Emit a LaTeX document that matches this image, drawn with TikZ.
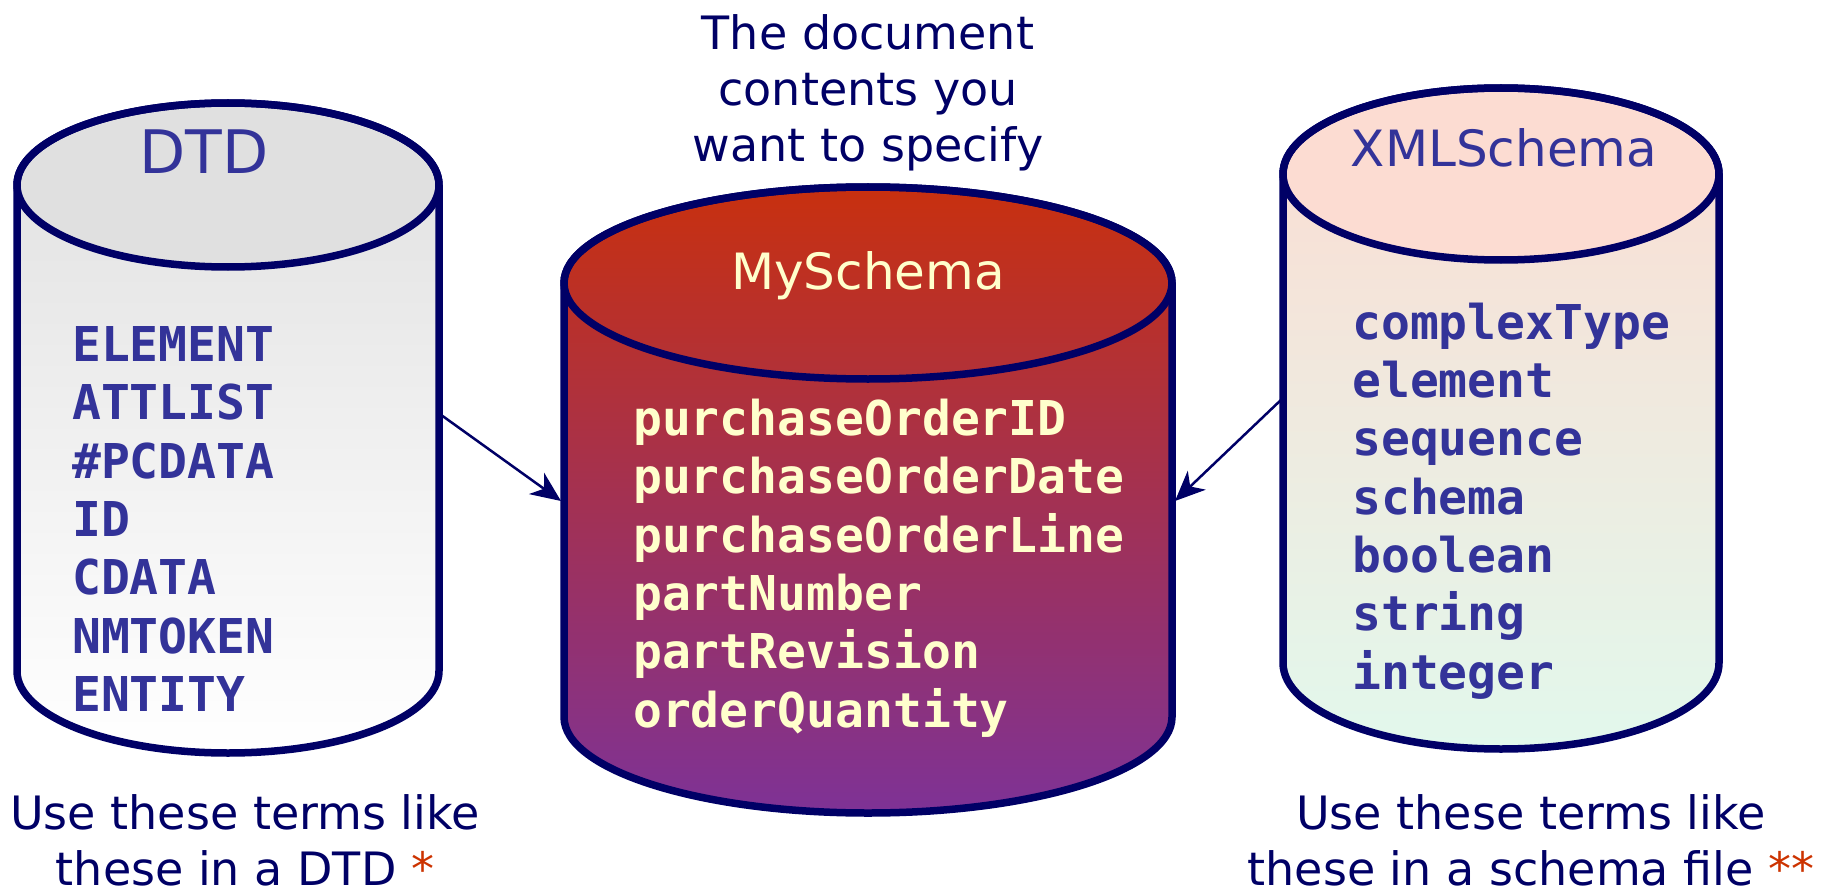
\documentclass[tikz,border=0pt]{standalone}
\usepackage{fontspec}
\setmainfont{DejaVu Sans}
\setmonofont{DejaVu Sans Mono}
\usetikzlibrary{arrows.meta}
\definecolor{navy}{HTML}{000066}
\definecolor{listblue}{HTML}{333399}
\definecolor{cream}{HTML}{FFFFCC}
\definecolor{starred}{HTML}{CC3300}
\definecolor{redtop}{HTML}{C8300F}
\definecolor{purplebot}{HTML}{7E3296}
\definecolor{graytop}{HTML}{E0E0E0}
\definecolor{peach}{HTML}{FCDCD2}
\definecolor{mint}{HTML}{E2F8EC}
\tikzset{
  outline/.style={draw=navy, line width=7.5pt, line join=round},
  caption/.style={text=navy, align=center, font=\fontsize{46}{56}\selectfont},
  cyltitle/.style={font=\fontsize{50}{60}\selectfont},
  termlist/.style={align=left, anchor=west, inner sep=0pt, font=\fontsize{48}{58.3}\selectfont\ttfamily\bfseries},
  conn/.style={navy, line width=2.5pt, -{Stealth[length=30pt,width=26pt,inset=9pt]}},
}
% #1 cx, #2 rx, #3 top centre y, #4 bottom centre y, #5 ry
\newcommand\cylsil[5]{({#1-#2},{-#3}) -- ({#1-#2},{-#4})
  arc[start angle=180,end angle=360,x radius=#2,y radius=#5]
  -- ({#1+#2},{-#3}) arc[start angle=0,end angle=180,x radius=#2,y radius=#5] -- cycle}
\newcommand\cyltop[5]{({#1},{-#3}) ellipse[x radius=#2,y radius=#5]}
\begin{document}
\begin{tikzpicture}[x=1pt,y=1pt]
\useasboundingbox (0,0) rectangle (1828,-896);

% DTD cylinder
\shade[top color=graytop, bottom color=white] \cylsil{228}{211}{185}{671}{82};
\fill[graytop] \cyltop{228}{211}{185}{671}{82};
\draw[outline] \cylsil{228}{211}{185}{671}{82};
\draw[outline] \cyltop{228}{211}{185}{671}{82};

% MySchema cylinder
\shade[top color=redtop, bottom color=purplebot] \cylsil{868}{304}{283}{717}{96};
\draw[outline] \cylsil{868}{304}{283}{717}{96};
\draw[outline] \cyltop{868}{304}{283}{717}{96};

% XMLSchema cylinder
\shade[top color=peach, bottom color=mint] \cylsil{1501}{218}{174}{663}{86};
\fill[peach] \cyltop{1501}{218}{174}{663}{86};
\draw[outline] \cylsil{1501}{218}{174}{663}{86};
\draw[outline] \cyltop{1501}{218}{174}{663}{86};

% titles
\node[cyltitle, text=listblue, font=\fontsize{60}{70}\selectfont] (dtdtitle) at (204,-152) {DTD};
\node[cyltitle, text=cream] (mytitle) at (868,-276) {MySchema};
\node[cyltitle, text=listblue] (xmltitle) at (1504,-148) {XMLSchema};

% lists
\node[termlist, text=listblue] (dtdlist) at (72,-519)
  {ELEMENT\\ATTLIST\\\#PCDATA\\ID\\CDATA\\NMTOKEN\\ENTITY};
\node[termlist, text=cream] (mylist) at (633,-568)
  {purchaseOrderID\\purchaseOrderDate\\purchaseOrderLine\\partNumber\\partRevision\\orderQuantity};
\node[termlist, text=listblue] (xmllist) at (1352,-501)
  {complexType\\element\\sequence\\schema\\boolean\\string\\integer};

% captions
\node[caption] (topcap) at (868,-93) {The document\\contents you\\want to specify};
\node[caption] (leftcap) at (245,-840) {Use these terms like\\these in a DTD {\color{starred}*}};
\node[caption] (rightcap) at (1531,-840) {Use these terms like\\these in a schema file {\color{starred}**}};

% connectors
\coordinate (dtdR) at (437,-412);
\coordinate (myL) at (561,-501);
\coordinate (xmlL) at (1283,-398);
\coordinate (myR) at (1175,-501);
\draw[conn] (dtdR) -- (myL);
\draw[conn] (xmlL) -- (myR);
\end{tikzpicture}
\end{document}
